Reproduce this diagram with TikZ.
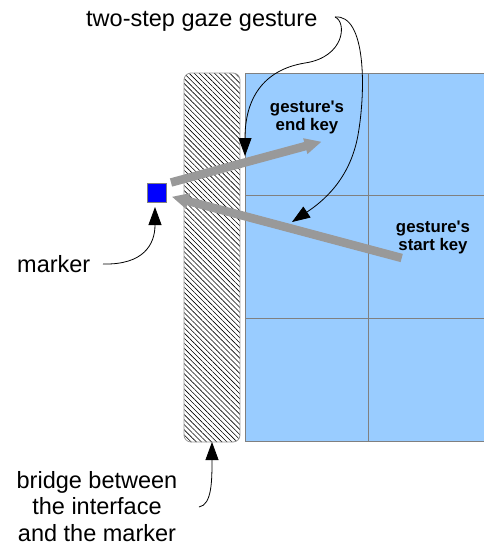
\documentclass[tikz,border=0pt]{standalone}
\usepackage{fontspec}
\setmainfont{Liberation Sans}
\newfontfamily\keyfont{Liberation Sans}
\usetikzlibrary{arrows.meta,patterns.meta}
\definecolor{keyblue}{HTML}{99CCFF}
\definecolor{gridgray}{HTML}{808080}
\definecolor{bargray}{HTML}{999999}
\definecolor{arrowgray}{HTML}{999999}
\definecolor{markblue}{HTML}{0000FF}
\begin{document}
\begin{tikzpicture}[x=1pt,y=-1pt,
  bigtxt/.style={font=\fontsize{23.5}{26.7}\selectfont, inner sep=0pt},
  keytxt/.style={font=\keyfont\fontsize{16.8}{18}\selectfont\bfseries, inner sep=0pt, align=center},
  pointer/.style={line width=0.8pt, -{Triangle[length=18pt,width=13pt]}},
  blockarrow/.style={draw=arrowgray, line width=8.5pt, -{Triangle[length=17pt,width=15pt]}},
  gridline/.style={draw=gridgray, line width=0.9pt},
  bridgebar/.style={draw=bargray, line width=0.8pt, rounded corners=7pt}]
\useasboundingbox (0,0) rectangle (484,546);
% key grid
\fill[keyblue] (245,73) rectangle (484,441);
\draw[gridline] (484,73) -- (245,73) -- (245,441) -- (484,441);
\draw[gridline] (368,73) -- (368,441);
\draw[gridline] (245,195) -- (484,195);
\draw[gridline] (245,318) -- (484,318);
% bridge bar
\path[pattern={Lines[angle=-45,distance=3.6pt,line width=0.6pt]}, pattern color=black, rounded corners=7pt] (184,73) rectangle (240,442);
\draw[bridgebar] (184,73) rectangle (240,442);
% marker
\node[draw=gridgray, fill=markblue, minimum size=19pt, inner sep=0pt] (m) at (156.5,192.5) {};
% labels
\node[keytxt, anchor=north] (endk) at (307,100.7) {gesture's\\end key};
\node[keytxt, anchor=north] (startk) at (433,220.7) {gesture's\\start key};
\node[bigtxt, anchor=base west] (title) at (86,27) {two-step gaze gesture};
\node[bigtxt, anchor=base west] (mk) at (17,272) {marker};
\node[bigtxt, align=center, anchor=north] (br) at (97,471) {bridge between\\the interface\\and the marker};
% coordinates
\coordinate (a1s) at (171,182.5);
\coordinate (a1e) at (321.7,141.7);
\coordinate (a2s) at (401.7,258);
\coordinate (a2e) at (171.7,196.7);
\coordinate (gz) at (335,17);
\coordinate (ek) at (245,156);
\coordinate (sk) at (292,222);
\coordinate (mks) at (103,264);
\coordinate (mt) at (155,207);
\coordinate (brs) at (199,507);
\coordinate (bt) at (212,442);
% gaze movement arrows
\draw[blockarrow] (a1s) -- (a1e);
\draw[blockarrow] (a2s) -- (a2e);
% pointers
\draw[pointer] (gz) .. controls (347,22) and (345,57) .. (305,63) .. controls (262,70) and (245,100) .. (ek);
\draw[pointer] (gz) .. controls (366,14) and (366,90) .. (358,135) .. controls (350,180) and (322,202) .. (sk);
\draw[pointer] (mks) .. controls (143,265) and (155,245) .. (mt);
\draw[pointer] (brs) .. controls (212,505) and (212,480) .. (bt);
\end{tikzpicture}
\end{document}
